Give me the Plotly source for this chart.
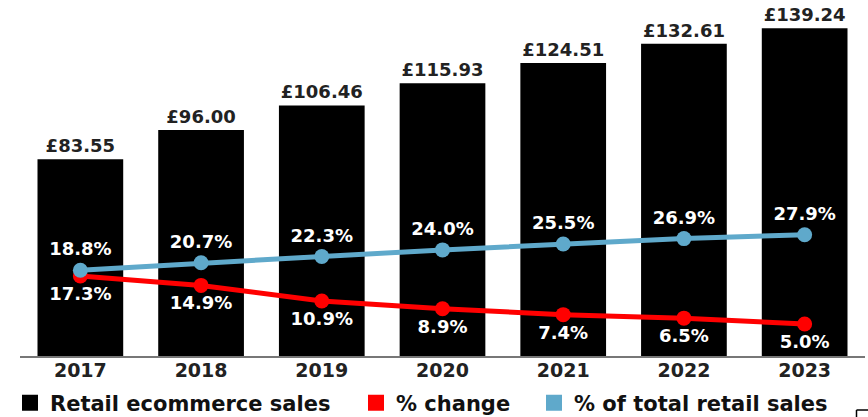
import plotly.graph_objects as go

years = ["2017", "2018", "2019", "2020", "2021", "2022", "2023"]
ecommerce_sales = [83.55, 96.00, 106.46, 115.93, 124.51, 132.61, 139.24]
pct_change = [17.3, 14.9, 10.9, 8.9, 7.4, 6.5, 5.0]
pct_total = [18.8, 20.7, 22.3, 24.0, 25.5, 26.9, 27.9]
legend_names = ["Retail ecommerce sales", "% change", "% of total retail sales"]

BLUE = "#5FA9CB"
RED = "#FF0000"
FONT = "DejaVu Sans"

fig = go.Figure()

fig.add_trace(go.Bar(
    x=years, y=ecommerce_sales, marker=dict(color="#000000", line=dict(width=0)),
    texttemplate="£%{y:.2f}", textposition="outside", constraintext="none",
    textfont=dict(family=FONT, size=18, color="#222222", weight="bold"),
    cliponaxis=False, showlegend=False, hoverinfo="skip"))

fig.add_trace(go.Scatter(
    x=years, y=pct_change, yaxis="y2", mode="lines+markers+text",
    line=dict(color=RED, width=5), marker=dict(color=RED, size=15),
    texttemplate="%{y:.1f}%", textposition="bottom center",
    textfont=dict(family=FONT, size=18, color="#FFFFFF", weight="bold"),
    cliponaxis=False, showlegend=False))

fig.add_trace(go.Scatter(
    x=years, y=pct_total, yaxis="y2", mode="lines+markers+text",
    line=dict(color=BLUE, width=5), marker=dict(color=BLUE, size=15),
    texttemplate="%{y:.1f}%", textposition="top center",
    textfont=dict(family=FONT, size=18, color="#FFFFFF", weight="bold"),
    cliponaxis=False, showlegend=False))

# legend entries (square swatches)
swatch_colors = ["#000000", RED, BLUE]
legend_ids = ["legend", "legend2", "legend3"]
for name, col, lid in zip(legend_names, swatch_colors, legend_ids):
    fig.add_trace(go.Scatter(
        x=[None], y=[None], mode="markers", name=name,
        marker=dict(symbol="square", size=16, color=col), legend=lid))

# plot area spans x 20..865, y 10..356 in the 868x417 figure
def px_x(px):
    return (px - 20) / 845.0

def px_y(py):
    return (356 - py) / 346.0

leg_font = dict(family=FONT, size=21, color="#111111", weight="bold")
leg_common = dict(orientation="h", yanchor="middle", xanchor="left",
                  font=leg_font, bgcolor="rgba(0,0,0,0)", borderwidth=0)

fig.update_layout(
    width=868, height=417,
    margin=dict(l=20, r=3, t=10, b=61, autoexpand=False),
    paper_bgcolor="white", plot_bgcolor="white",
    bargap=0.29,
    xaxis=dict(type="category", range=[-0.5, 6.5], showgrid=False,
               showline=True, linecolor="#777777", linewidth=2,
               ticks="", tickfont=dict(family=FONT, size=19, color="#222222", weight="bold"),
               ticklabelstandoff=-4),
    yaxis=dict(range=[0, 147.0], visible=False, showgrid=False),
    yaxis2=dict(range=[-3.2, 85.5], overlaying="y", visible=False, showgrid=False),
    legend=dict(x=px_x(10), y=px_y(403), **leg_common),
    legend2=dict(x=px_x(356), y=px_y(403), **leg_common),
    legend3=dict(x=px_x(534), y=px_y(403), **leg_common),
    shapes=[
        dict(type="line", xref="paper", yref="paper", x0=px_x(856.5), x1=px_x(856.5),
             y0=px_y(410), y1=px_y(418), line=dict(color="#000000", width=1.5)),
        dict(type="line", xref="paper", yref="paper", x0=px_x(856.5), x1=px_x(869),
             y0=px_y(410), y1=px_y(410), line=dict(color="#000000", width=1.5)),
    ],
)

fig.write_html("out.html", config={"displayModeBar": False},
               post_script="document.body.style.margin='0';")
